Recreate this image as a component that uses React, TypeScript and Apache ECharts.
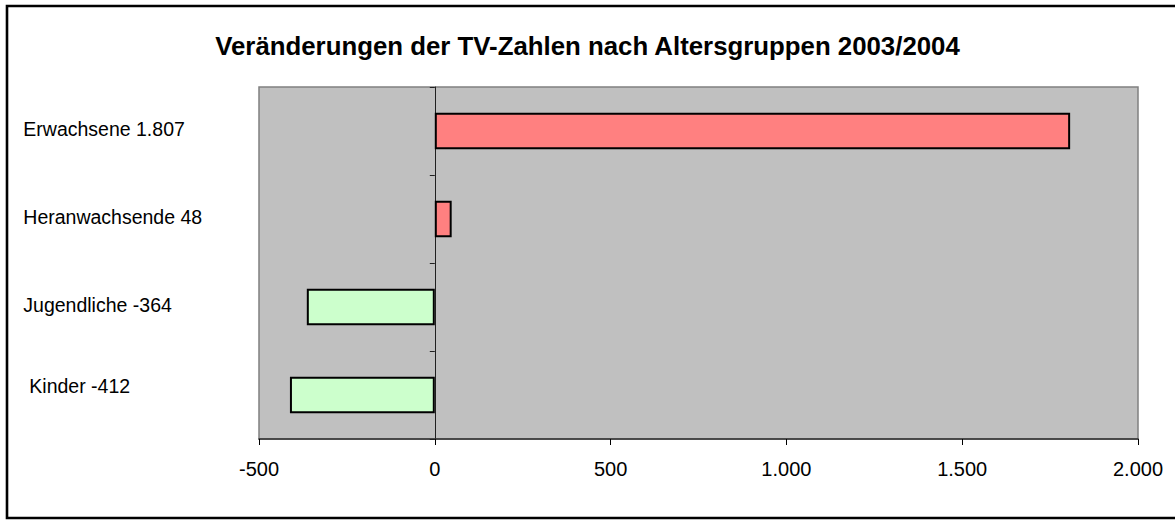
import React, { useEffect, useRef } from "react";
import * as echarts from "echarts";

const titleText = "Veränderungen der TV-Zahlen nach Altersgruppen 2003/2004";
const categories = ["Kinder -412", "Jugendliche -364", "Heranwachsende 48", "Erwachsene 1.807"];
const values = [-412, -364, 48, 1807];
const xTicks = [-500, 0, 500, 1000, 1500, 2000];

const fmt = (v: number) => {
  const s = Math.abs(v).toString().replace(/\B(?=(\d{3})+(?!\d))/g, ".");
  return (v < 0 ? "-" : "") + s;
};

const FONT = "Liberation Sans, Arial, sans-serif";

export default function App() {
  const ref = useRef<HTMLDivElement>(null);
  useEffect(() => {
    if (!ref.current) return;
    const chart = echarts.init(ref.current, null, { renderer: "svg" });
    chart.setOption({
      animation: false,
      backgroundColor: "#ffffff",
      textStyle: { fontFamily: FONT },
      title: {
        text: titleText,
        left: "center",
        top: 28,
        textStyle: { fontSize: 25.8, fontWeight: "bold", color: "#000", fontFamily: FONT },
      },
      graphic: [
        {
          type: "rect",
          shape: { x: 7, y: 6, width: 1180, height: 512 },
          style: { fill: "none", stroke: "#000", lineWidth: 2.6 },
          silent: true,
          z: 100,
        },
      ],
      grid: {
        left: 259,
        top: 87,
        width: 879,
        height: 352,
        show: true,
        backgroundColor: "#C0C0C0",
        borderColor: "#808080",
        borderWidth: 1.5,
      },
      xAxis: {
        type: "value",
        min: xTicks[0],
        max: xTicks[xTicks.length - 1],
        interval: 500,
        splitLine: { show: false },
        axisLine: { show: true, onZero: false, lineStyle: { color: "#303030", width: 1.5 } },
        axisTick: { show: true, length: 6, lineStyle: { color: "#000" } },
        axisLabel: { formatter: (v: number) => fmt(v), color: "#000", fontSize: 20, margin: 20 },
      },
      yAxis: [
        {
          type: "category",
          data: categories,
          position: "left",
          axisLine: { show: false, onZero: false },
          axisTick: { show: false },
          axisLabel: {
            align: "left",
            margin: 235.7,
            color: "#000",
            fontSize: 19.5,
            formatter: (v: string, i: number) => (i === 0 ? "{k|" + v + "}" : "{n|" + v + "}"),
            rich: {
              k: { fontSize: 19.5, color: "#000", fontFamily: FONT, padding: [0, 0, 18, 6] },
              n: { fontSize: 19.5, color: "#000", fontFamily: FONT, padding: [0, 0, 5, 0] },
            },
          },
        },
        {
          type: "category",
          data: categories,
          position: "left",
          axisLine: { show: true, onZero: true, lineStyle: { color: "#202020", width: 1 } },
          axisTick: { show: true, length: 5, lineStyle: { color: "#202020" } },
          axisLabel: { show: false },
        },
      ],
      series: [
        {
          type: "bar",
          yAxisIndex: 0,
          data: values.map((v) => ({
            value: v,
            itemStyle: { color: v >= 0 ? "#FF8080" : "#CCFFCC" },
          })),
          barWidth: 36.5,
          itemStyle: { borderColor: "#000", borderWidth: 2 },
          z: 3,
        },
      ],
    });
    return () => chart.dispose();
  }, []);
  return (
    <div
      ref={ref}
      style={{ position: "fixed", left: 0, top: 0, width: 1175, height: 520 }}
    />
  );
}
